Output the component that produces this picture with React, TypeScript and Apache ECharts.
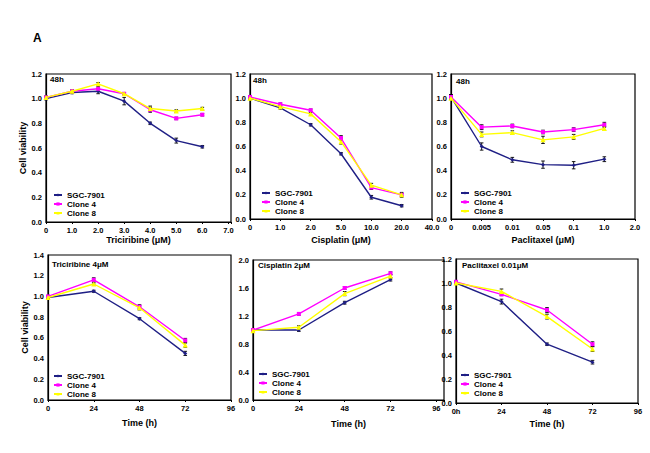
import React, { useEffect, useRef } from "react";
import * as echarts from "echarts";

// ---------- data ----------
const seriesNames = ["SGC-7901", "Clone 4", "Clone 8"];
const seriesColors = ["#1f1f85", "#ff00ff", "#ffff00"];
const seriesSymbols = ["diamond", "rect", "triangle"];

// Panel 1: Triciribine dose (µM), 48h
const triDose = [0, 1, 2, 3, 4, 5, 6];
const triSGC = [1.0, 1.05, 1.06, 0.98, 0.8, 0.66, 0.61];
const triC4 = [1.01, 1.06, 1.08, 1.04, 0.91, 0.84, 0.87];
const triC8 = [1.01, 1.06, 1.12, 1.04, 0.92, 0.9, 0.92];
const triSGCErr = [0.01, 0.01, 0.02, 0.03, 0.01, 0.02, 0.01];
const triC4Err = [0.01, 0.01, 0.02, 0.01, 0.02, 0.01, 0.01];
const triC8Err = [0.01, 0.01, 0.01, 0.01, 0.02, 0.01, 0.01];

// Panel 2: Cisplatin dose (µM), 48h (equally spaced categories)
const cisLabels = ["0", "1.0", "2.0", "5.0", "10.0", "20.0", "40.0"];
const cisIndex = [0, 1, 2, 3, 4, 5];
const cisSGC = [1.0, 0.92, 0.78, 0.54, 0.18, 0.11];
const cisC4 = [1.01, 0.95, 0.9, 0.67, 0.26, 0.2];
const cisC8 = [1.0, 0.93, 0.87, 0.64, 0.28, 0.2];
const cisSGCErr = [0.01, 0.01, 0.01, 0.01, 0.015, 0.01];
const cisC4Err = [0.01, 0.01, 0.01, 0.02, 0.015, 0.01];
const cisC8Err = [0.01, 0.01, 0.01, 0.02, 0.015, 0.02];

// Panel 3: Paclitaxel dose (µM), 48h (equally spaced categories)
const pacLabels = ["0", "0.005", "0.01", "0.05", "0.1", "1.0", "2.0"];
const pacIndex = [0, 1, 2, 3, 4, 5];
const pacSGC = [1.01, 0.6, 0.49, 0.45, 0.445, 0.495];
const pacC4 = [1.01, 0.76, 0.77, 0.72, 0.74, 0.78];
const pacC8 = [1.0, 0.7, 0.715, 0.655, 0.68, 0.75];
const pacSGCErr = [0.02, 0.03, 0.02, 0.03, 0.03, 0.02];
const pacC4Err = [0.02, 0.02, 0.015, 0.015, 0.015, 0.02];
const pacC8Err = [0.01, 0.02, 0.015, 0.03, 0.02, 0.015];

// Time course (h)
const timePoints = [0, 24, 48, 72];

// Panel 4: Triciribine 4µM
const triTimeSGC = [0.99, 1.05, 0.785, 0.45];
const triTimeC4 = [1.0, 1.16, 0.9, 0.575];
const triTimeC8 = [0.99, 1.12, 0.89, 0.53];
const triTimeSGCErr = [0.01, 0.01, 0.01, 0.02];
const triTimeC4Err = [0.01, 0.02, 0.02, 0.02];
const triTimeC8Err = [0.01, 0.01, 0.02, 0.02];

// Panel 5: Cisplatin 2µM
const cisTimeSGC = [1.0, 1.0, 1.39, 1.72];
const cisTimeC4 = [1.0, 1.23, 1.6, 1.81];
const cisTimeC8 = [0.99, 1.04, 1.52, 1.77];
const cisTimeSGCErr = [0.01, 0.02, 0.02, 0.02];
const cisTimeC4Err = [0.01, 0.02, 0.02, 0.02];
const cisTimeC8Err = [0.01, 0.02, 0.03, 0.02];

// Panel 6: Paclitaxel 0.01µM
const pacTimeSGC = [1.0, 0.845, 0.49, 0.34];
const pacTimeC4 = [1.01, 0.905, 0.775, 0.49];
const pacTimeC8 = [1.0, 0.93, 0.72, 0.45];
const pacTimeSGCErr = [0.01, 0.02, 0.01, 0.015];
const pacTimeC4Err = [0.01, 0.01, 0.02, 0.02];
const pacTimeC8Err = [0.01, 0.02, 0.02, 0.02];

const panelTitles = ["48h", "48h", "48h", "Triciribine 4\u03bcM", "Cisplatin 2\u03bcM", "Paclitaxel 0.01\u03bcM"];
const xTitles = ["Triciribine (\u03bcM)", "Cisplatin (\u03bcM)", "Paclitaxel (\u03bcM)", "Time (h)", "Time (h)", "Time (h)"];
const yTitle = "Cell viability";

// ---------- layout ----------
const FONT = "'Liberation Sans', Arial, sans-serif";

type Panel = {
  grid: { left: number; top: number; width: number; height: number };
  x: number[];
  ys: number[][];
  errs: number[][];
  xMin: number;
  xMax: number;
  xInterval: number;
  xFormat: (v: number) => string;
  yMax: number;
  yInterval: number;
  nameGap: number;
  labelMargin: number;
  legendTop: number;
  legendLeft: number;
  titlePos: [number, number];
  yName: boolean;
};

const fmtTime0 = (v: number) => (v % 24 === 0 ? String(v) : "");

const panels: Panel[] = [
  {
    grid: { left: 46, top: 74, width: 185, height: 148 },
    x: triDose, ys: [triSGC, triC4, triC8], errs: [triSGCErr, triC4Err, triC8Err],
    xMin: 0, xMax: 7.1, xInterval: 1,
    xFormat: (v) => (v === 0 ? "0" : Number.isInteger(v) ? v.toFixed(1) : ""),
    yMax: 1.2, yInterval: 0.2, nameGap: 13, labelMargin: 4,
    legendLeft: 53, legendTop: 191, titlePos: [50, 75], yName: true,
  },
  {
    grid: { left: 250, top: 74, width: 182, height: 145 },
    x: cisIndex, ys: [cisSGC, cisC4, cisC8], errs: [cisSGCErr, cisC4Err, cisC8Err],
    xMin: 0, xMax: 6, xInterval: 1,
    xFormat: (v) => cisLabels[v] ?? "",
    yMax: 1.2, yInterval: 0.2, nameGap: 16, labelMargin: 4,
    legendLeft: 261, legendTop: 189, titlePos: [253, 76], yName: false,
  },
  {
    grid: { left: 451, top: 74, width: 184, height: 145 },
    x: pacIndex, ys: [pacSGC, pacC4, pacC8], errs: [pacSGCErr, pacC4Err, pacC8Err],
    xMin: 0, xMax: 6, xInterval: 1,
    xFormat: (v) => pacLabels[v] ?? "",
    yMax: 1.2, yInterval: 0.2, nameGap: 16, labelMargin: 4,
    legendLeft: 460, legendTop: 189, titlePos: [456, 77], yName: false,
  },
  {
    grid: { left: 48, top: 255, width: 183, height: 145 },
    x: timePoints, ys: [triTimeSGC, triTimeC4, triTimeC8], errs: [triTimeSGCErr, triTimeC4Err, triTimeC8Err],
    xMin: 0, xMax: 96, xInterval: 24,
    xFormat: fmtTime0,
    yMax: 1.4, yInterval: 0.2, nameGap: 18, labelMargin: 4,
    legendLeft: 53, legendTop: 372, titlePos: [52, 260], yName: true,
  },
  {
    grid: { left: 253, top: 260, width: 191, height: 140 },
    x: timePoints, ys: [cisTimeSGC, cisTimeC4, cisTimeC8], errs: [cisTimeSGCErr, cisTimeC4Err, cisTimeC8Err],
    xMin: 0, xMax: 100, xInterval: 24,
    xFormat: fmtTime0,
    yMax: 2.0, yInterval: 0.4, nameGap: 19, labelMargin: 4,
    legendLeft: 258, legendTop: 370, titlePos: [258, 261], yName: false,
  },
  {
    grid: { left: 456, top: 259, width: 182, height: 144 },
    x: timePoints, ys: [pacTimeSGC, pacTimeC4, pacTimeC8], errs: [pacTimeSGCErr, pacTimeC4Err, pacTimeC8Err],
    xMin: 0, xMax: 96, xInterval: 24,
    xFormat: (v) => (v === 0 ? "0h" : fmtTime0(v)),
    yMax: 1.2, yInterval: 0.2, nameGap: 16, labelMargin: 4,
    legendLeft: 460, legendTop: 371, titlePos: [462, 261], yName: false,
  },
];

const errRender = (params: any, api: any) => {
  const x = api.value(0);
  const y = api.value(1);
  const e = api.value(2);
  const top = api.coord([x, y + e]);
  const bot = api.coord([x, y - e]);
  const w = 1.8;
  const style = { stroke: "#000", lineWidth: 0.9 };
  return {
    type: "group",
    children: [
      { type: "line", shape: { x1: top[0], y1: top[1], x2: bot[0], y2: bot[1] }, style },
      { type: "line", shape: { x1: top[0] - w, y1: top[1], x2: top[0] + w, y2: top[1] }, style },
      { type: "line", shape: { x1: bot[0] - w, y1: bot[1], x2: bot[0] + w, y2: bot[1] }, style },
    ],
  };
};

function buildOption() {
  const grid: any[] = [];
  const xAxis: any[] = [];
  const yAxis: any[] = [];
  const series: any[] = [];
  const legend: any[] = [];
  const title: any[] = [];

  panels.forEach((p, i) => {
    grid.push({
      ...p.grid,
      show: true,
      borderColor: "#000",
      borderWidth: 1.2,
      backgroundColor: "transparent",
      containLabel: false,
    });
    xAxis.push({
      type: "value",
      gridIndex: i,
      min: p.xMin,
      max: p.xMax,
      interval: p.xInterval,
      name: xTitles[i],
      nameLocation: "middle",
      nameGap: p.nameGap,
      nameTextStyle: { fontFamily: FONT, fontWeight: "bold", fontSize: 9, color: "#000", verticalAlign: "top" },
      axisLine: { show: true, lineStyle: { color: "#000", width: 1.2 } },
      axisTick: { show: true, length: 2, lineStyle: { color: "#000" } },
      splitLine: { show: false },
      axisLabel: {
        formatter: p.xFormat,
        fontFamily: FONT,
        fontWeight: "bold",
        fontSize: 7.5,
        color: "#000",
        margin: p.labelMargin,
        showMaxLabel: true,
      },
    });
    yAxis.push({
      type: "value",
      gridIndex: i,
      min: 0,
      max: p.yMax,
      interval: p.yInterval,
      name: p.yName ? yTitle : "",
      nameLocation: "middle",
      nameRotate: 90,
      nameGap: 19,
      nameTextStyle: { fontFamily: FONT, fontWeight: "bold", fontSize: 9, color: "#000" },
      axisLine: { show: true, lineStyle: { color: "#000", width: 1.2 } },
      axisTick: { show: false },
      splitLine: { show: false },
      axisLabel: {
        formatter: (v: number) => v.toFixed(1),
        fontFamily: FONT,
        fontWeight: "bold",
        fontSize: 7.5,
        color: "#000",
        margin: 4,
      },
    });

    p.ys.forEach((ys, s) => {
      series.push({
        type: "line",
        name: seriesNames[s],
        xAxisIndex: i,
        yAxisIndex: i,
        data: p.x.map((xv, k) => [xv, ys[k]]),
        symbol: seriesSymbols[s],
        symbolSize: s === 2 ? 5 : 4,
        showSymbol: true,
        lineStyle: { color: seriesColors[s], width: 1.4 },
        itemStyle: { color: seriesColors[s] },
        z: 3 + s,
      });
    });
    p.ys.forEach((ys, s) => {
      series.push({
        type: "custom",
        name: "err" + i + "_" + s,
        xAxisIndex: i,
        yAxisIndex: i,
        renderItem: errRender,
        data: p.x.map((xv, k) => [xv, ys[k], p.errs[s][k]]),
        z: 2,
        silent: true,
      });
    });

    legend.push({
      data: seriesNames,
      left: p.legendLeft,
      top: p.legendTop,
      orient: "vertical",
      itemWidth: 8,
      itemHeight: 4,
      itemGap: 1,
      padding: 0,
      selectedMode: false,
      textStyle: { fontFamily: FONT, fontWeight: "bold", fontSize: 8, color: "#000", lineHeight: 8 },
    });

    title.push({
      text: panelTitles[i],
      left: p.titlePos[0],
      top: p.titlePos[1],
      padding: 0,
      textStyle: { fontFamily: FONT, fontWeight: "bold", fontSize: 8, color: "#000" },
    });
  });

  title.push({
    text: "A",
    left: 33,
    top: 32,
    padding: 0,
    textStyle: { fontFamily: FONT, fontWeight: "bold", fontSize: 12, color: "#000" },
  });

  return {
    animation: false,
    backgroundColor: "#fff",
    grid,
    xAxis,
    yAxis,
    series,
    legend,
    title,
  };
}

export default function App() {
  const ref = useRef<HTMLDivElement>(null);
  useEffect(() => {
    if (!ref.current) return;
    const chart = echarts.init(ref.current, undefined, { renderer: "svg" });
    chart.setOption(buildOption());
    return () => chart.dispose();
  }, []);
  return (
    <div
      ref={ref}
      style={{ position: "fixed", left: 0, top: 0, width: 650, height: 453, background: "#fff" }}
    />
  );
}
